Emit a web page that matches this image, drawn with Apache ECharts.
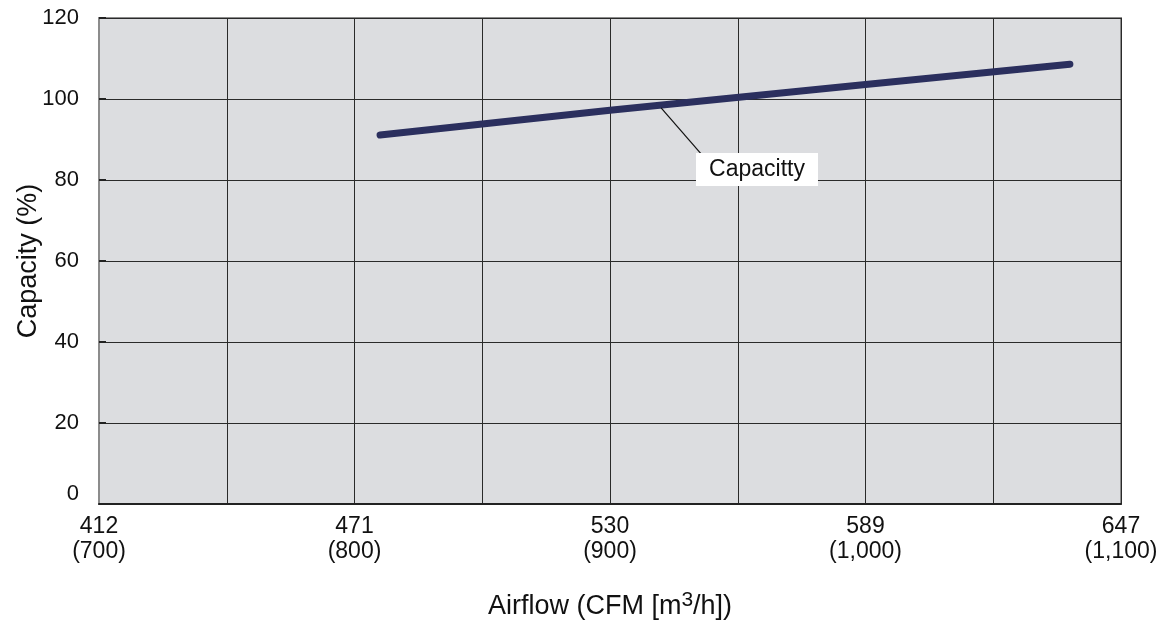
<!DOCTYPE html>
<html><head><meta charset="utf-8">
<script src="https://cdn.jsdelivr.net/npm/echarts@6/dist/echarts.min.js"></script>
<style>html,body{margin:0;padding:0;background:#fff}#c{width:1172px;height:626px}</style>
</head><body><div id="c"></div>
<script>
// Data
const airflowM3h = [810, 900, 1000, 1080];
const capacityPct = [91.1, 97.2, 103.6, 108.6];
const xTickM3h = [700, 800, 900, 1000, 1100];
const xTickCFM = ['412', '471', '530', '589', '647'];
const xTickM3hText = ['(700)', '(800)', '(900)', '(1,000)', '(1,100)'];
const seriesName = 'Capacitty';
const annotAnchor = [920, 97.8];
const annotLabelAt = [936, 86.2];

const font = '"Liberation Sans", Arial, sans-serif';
const chart = echarts.init(document.getElementById('c'));
const option = {
  animation: false,
  backgroundColor: '#ffffff',
  grid: { left: 99, top: 18, right: 51, bottom: 122, containLabel: false, outerBoundsMode: 'none', show: true, backgroundColor: '#dcdde0', borderColor: '#8c8c8c', borderWidth: 2 },
  xAxis: {
    type: 'value', min: 700, max: 1100, interval: 50,
    name: '{a|Airflow (CFM [m}{s|3}{a|/h])}', nameLocation: 'middle', nameGap: 86, nameMoveOverlap: false,
    nameTextStyle: { rich: {
      a: { fontFamily: font, fontSize: 27, color: '#111', lineHeight: 30, verticalAlign: 'bottom' },
      s: { fontFamily: font, fontSize: 21, color: '#111', lineHeight: 30, verticalAlign: 'top' } } },
    axisLine: { show: true, lineStyle: { color: '#222', width: 2 } },
    axisTick: { show: false },
    splitLine: { show: true, lineStyle: { color: '#2a2a2a', width: 1 } },
    axisLabel: {
      margin: 10, fontFamily: font, fontSize: 23, color: '#111', lineHeight: 25,
      formatter: v => { const i = xTickM3h.indexOf(v); return i < 0 ? '' : xTickCFM[i] + '\n' + xTickM3hText[i]; }
    }
  },
  yAxis: {
    type: 'value', min: 0, max: 120, interval: 20,
    name: 'Capacity (%)', nameLocation: 'middle', nameGap: 57, nameMoveOverlap: false,
    nameTextStyle: { fontFamily: font, fontSize: 27, color: '#111' },
    axisLine: { show: true, lineStyle: { color: '#8c8c8c', width: 2 } },
    axisTick: { show: true, inside: true, length: 7, lineStyle: { color: '#222', width: 2 } },
    splitLine: { show: true, lineStyle: { color: '#2a2a2a', width: 1 } },
    axisLabel: {
      margin: 20, fontFamily: font, fontSize: 22, color: '#111',
      formatter: v => v === 0 ? '{z|0}' : String(v),
      rich: { z: { fontFamily: font, fontSize: 22, color: '#111', padding: [0, 0, 20, 0] } }
    }
  },
  series: [{
    name: seriesName, type: 'line', symbol: 'none',
    data: airflowM3h.map((x, i) => [x, capacityPct[i]]),
    lineStyle: { color: '#2b2f5e', width: 7, cap: 'round', join: 'round' }
  }]
};
chart.setOption(option);
const p1 = chart.convertToPixel({ gridIndex: 0 }, annotAnchor);
const p2 = chart.convertToPixel({ gridIndex: 0 }, annotLabelAt);
chart.setOption({
  graphic: [
    { type: 'line', shape: { x1: p1[0], y1: p1[1], x2: p2[0], y2: p2[1] }, style: { stroke: '#111', lineWidth: 1.2 }, z: 10 },
    { type: 'rect', shape: { x: p2[0] - 6, y: p2[1] - 2, width: 122, height: 33 }, style: { fill: '#ffffff' }, z: 10 },
    { type: 'text', x: p2[0] + 55, y: p2[1] + 15, style: { text: seriesName, font: '23px ' + font, fill: '#111', align: 'center', verticalAlign: 'middle' }, z: 11 }
  ]
});
</script></body></html>
